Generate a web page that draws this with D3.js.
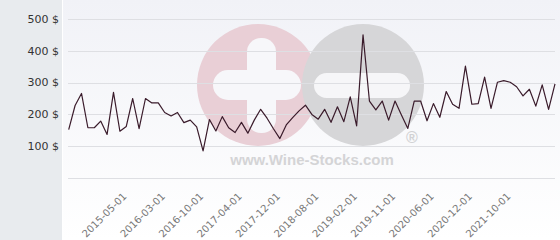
<!DOCTYPE html>
<html>
<head>
<meta charset="utf-8">
<script src="https://cdn.jsdelivr.net/npm/d3@7"></script>
<style>
  html, body { margin: 0; padding: 0; background: #ffffff; }
  svg { display: block; }
</style>
</head>
<body>
<div id="chart"></div>
<script>
// Price per observation (categorical x axis, one point per quote)
const prices = [
  152, 228, 266, 158, 158, 179, 137, 269, 147, 162,
  250, 155, 250, 236, 236, 206, 195, 206, 174, 182,
  161, 85, 184, 148, 193, 158, 143, 175, 141, 182,
  216, 188, 155, 124, 167, 190, 211, 229, 200, 185,
  216, 175, 224, 177, 255, 164, 450, 242, 214, 242,
  182, 242, 198, 156, 242, 242, 180, 234, 191, 272,
  232, 219, 352, 232, 234, 317, 219, 301, 306, 301,
  287, 258, 279, 226, 293, 216, 296
];

// Which point carries an x-axis label, and the label text
const tickIndex = [9, 15, 21, 27, 33, 39, 45, 51, 57, 63, 69];
const tickLabels = [
  "2015-05-01", "2016-03-01", "2016-10-01", "2017-04-01", "2017-12-01",
  "2018-08-01", "2019-02-01", "2019-11-01", "2020-06-01", "2020-12-01",
  "2021-10-01"
];

const yTicks = [100, 200, 300, 400, 500];
const yGrid = [0, 100, 200, 300, 400, 500];

const W = 560, H = 240;
const panelW = 62;

const svg = d3.select("#chart").append("svg")
    .attr("width", W)
    .attr("height", H);

const defs = svg.append("defs");
const grad = defs.append("linearGradient")
    .attr("id", "plotBg")
    .attr("x1", 0).attr("y1", 0).attr("x2", 0).attr("y2", 1);
grad.append("stop").attr("offset", "0%").attr("stop-color", "#f1f2f7");
grad.append("stop").attr("offset", "100%").attr("stop-color", "#ffffff");

// left gray panel and plot background
svg.append("rect")
    .attr("x", 0).attr("y", 0)
    .attr("width", panelW).attr("height", H)
    .attr("fill", "#e8ebee");
svg.append("rect")
    .attr("x", panelW + 1).attr("y", 0)
    .attr("width", W - panelW - 1).attr("height", H)
    .attr("fill", "url(#plotBg)");

const x = d3.scaleLinear()
    .domain([0, prices.length - 1])
    .range([68.7, 555]);
const y = d3.scaleLinear()
    .domain([0, 500])
    .range([178, 19]);

// watermark
const wm = svg.append("g").attr("class", "watermark");
wm.append("circle").attr("cx", 258).attr("cy", 85).attr("r", 61).attr("fill", "#e9cfd6");
wm.append("circle").attr("cx", 363).attr("cy", 85).attr("r", 61).attr("fill", "#d6d6d8");
wm.append("rect").attr("x", 213).attr("y", 70).attr("width", 88).attr("height", 30)
    .attr("rx", 15).attr("fill", "#f7f7fa");
wm.append("rect").attr("x", 247).attr("y", 38).attr("width", 29).attr("height", 95)
    .attr("rx", 14).attr("fill", "#f7f7fa");
wm.append("rect").attr("x", 314).attr("y", 73).attr("width", 96).attr("height", 25)
    .attr("rx", 12.5).attr("fill", "#f6f6f8");
wm.append("text")
    .attr("x", 312).attr("y", 165)
    .attr("text-anchor", "middle")
    .attr("font-family", "Liberation Sans, Arial, sans-serif")
    .attr("font-weight", "bold")
    .attr("font-size", 15)
    .attr("fill", "#d4d4d6")
    .text("www.Wine-Stocks.com");
wm.append("text")
    .attr("x", 412).attr("y", 143)
    .attr("text-anchor", "middle")
    .attr("font-family", "Liberation Sans, Arial, sans-serif")
    .attr("font-weight", "bold")
    .attr("font-size", 16)
    .attr("fill", "#d2d2d4")
    .text("®");

// gridlines
svg.append("g").selectAll("line")
    .data(yGrid)
    .join("line")
    .attr("x1", 68).attr("x2", 555)
    .attr("y1", d => Math.round(y(d)) + 0.5)
    .attr("y2", d => Math.round(y(d)) + 0.5)
    .attr("stroke", "#dedfe3")
    .attr("stroke-width", 1);

// y labels
svg.append("g").selectAll("text")
    .data(yTicks)
    .join("text")
    .attr("x", 59)
    .attr("y", d => y(d))
    .attr("dy", "0.35em")
    .attr("text-anchor", "end")
    .attr("font-family", "DejaVu Sans, sans-serif")
    .attr("font-size", 11)
    .attr("fill", "#333333")
    .text(d => d + " $");

// x labels
svg.append("g").selectAll("text")
    .data(tickIndex)
    .join("text")
    .attr("text-anchor", "end")
    .attr("font-family", "DejaVu Sans, sans-serif")
    .attr("font-size", 10)
    .attr("fill", "#777777")
    .attr("transform", d => `translate(${x(d) + 1},197) rotate(-45)`)
    .text((d, i) => tickLabels[i]);

// price line
const line = d3.line()
    .x((d, i) => x(i))
    .y(d => y(d));

svg.append("path")
    .datum(prices)
    .attr("d", line)
    .attr("fill", "none")
    .attr("stroke", "#3a1b2b")
    .attr("stroke-width", 1.2)
    .attr("stroke-linejoin", "round");
</script>
</body>
</html>
